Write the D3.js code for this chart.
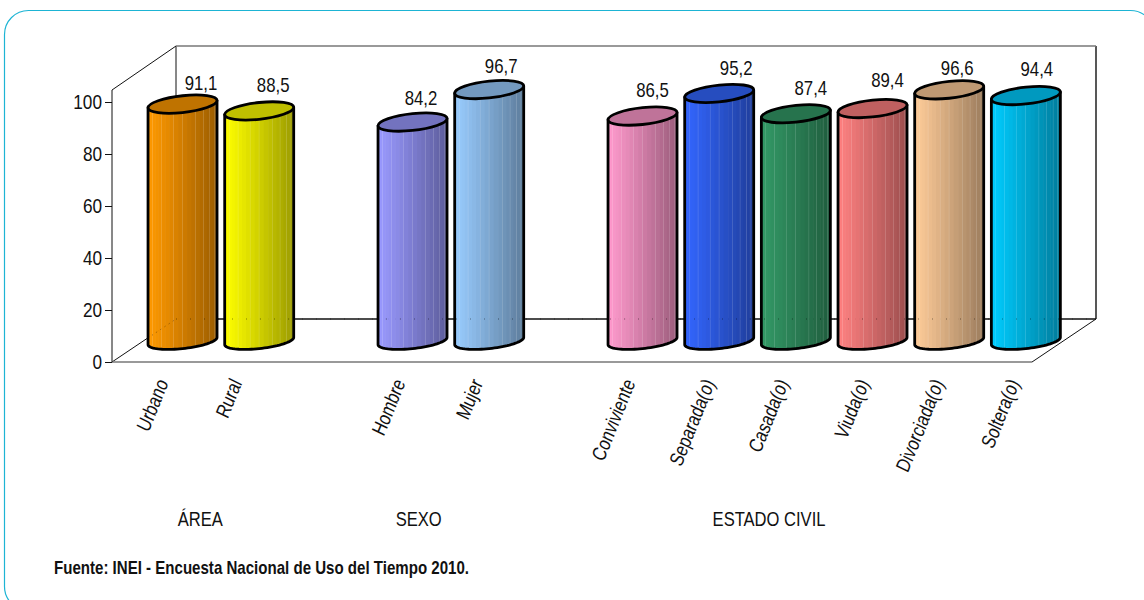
<!DOCTYPE html>
<html><head><meta charset="utf-8">
<script src="https://cdn.jsdelivr.net/npm/d3@7/dist/d3.min.js"></script>
<style>html,body{margin:0;background:#fff}svg{display:block}text{font-family:"Liberation Sans",Arial,sans-serif;fill:#111}</style>
</head><body><svg id="c" width="1144" height="600"></svg>
<script>
const categories=["Urbano","Rural","","Hombre","Mujer","","Conviviente","Separada(o)","Casada(o)","Viuda(o)","Divorciada(o)","Soltera(o)"];
const values=[91.1,88.5,null,84.2,96.7,null,86.5,95.2,87.4,89.4,96.6,94.4];
const valueLabels=["91,1","88,5","","84,2","96,7","","86,5","95,2","87,4","89,4","96,6","94,4"];
const colors=["#ff9900","#ffff00","","#9999ff","#99ccff","","#ff99cc","#3366ff","#339966","#ff8080","#ffcc99","#00ccff"];
const yTicks=[0,20,40,60,80,100];
const groupNames=["ÁREA","SEXO","ESTADO CIVIL"];
const source="Fuente: INEI - Encuesta Nacional de Uso del Tiempo 2010.";

// placement nudges for text, kept apart from the data
const valueNudgeX=[18.5,14,0,8.5,12,0,10,17,15,15,8,11];
const valueNudgeY=[-14.5,-19,0,-17.5,-17,0,-19,-18,-19,-22,-15,-20];
const catNudgeX=[-9,-12,0,-2,-1,0,-2,1,-2,2,0,-1];
const groupCenterSlots=[1.15,4,8.57];

const svg=d3.select("#c"),defs=svg.append("defs");
svg.append("rect").attr("x",4.5).attr("y",10.5).attr("width",1150).attr("height",600).attr("rx",24).attr("fill","#fff").attr("stroke","#1db4d4").attr("stroke-width",1.2);

const depthX=64,depthY=43;
const x=d3.scaleBand().domain(d3.range(categories.length)).range([112,1032]).padding(0);
const y=d3.scaleLinear().domain([0,100]).range([362,102]);
const yTop=90,x0=x.range()[0],x1=x.range()[1];
const baseOff={x:depthX/2+0.2,y:-21};
const rx=34.5,ea=3.6,eb=7.6,ebTop=8.4;
const strokeW=2.8;

// walls and floor
const wall=svg.append("g").attr("fill","none").attr("stroke","#111");
wall.append("path").attr("d",`M${x0},${yTop}L${x0+depthX},${yTop-depthY-1}V${y(0)-depthY}`);
wall.append("path").attr("d",`M1096,${yTop-depthY-1}V${y(0)-depthY}`).attr("stroke-width",1.4);
wall.append("path").attr("d",`M${x0+depthX},${yTop-depthY-1}H1096`).attr("stroke","#777").attr("stroke-width",1.5);
wall.append("path").attr("d",`M${x0+depthX},${y(0)-depthY}H1096`).attr("stroke-width",1.6);
wall.append("path").attr("d",`M${x0},${y(0)}L${x0+depthX},${y(0)-depthY}M${x1},${y(0)}L1096,${y(0)-depthY}`);
wall.append("path").attr("d",`M${x0},${y(0)}H${x1}`).attr("stroke","#777").attr("stroke-width",1.5);

// y axis
const axis=svg.append("g").attr("transform",`translate(${x0},0)`).call(d3.axisLeft(y).tickValues(yTicks).tickSize(7).tickPadding(3));
axis.attr("font-family",null).attr("font-size",null);
axis.select(".domain").remove();
axis.append("line").attr("y1",yTop).attr("y2",y(0)).attr("stroke","#111");
axis.selectAll(".tick line").attr("stroke","#111");
axis.selectAll(".tick text").attr("font-size",20).attr("x",0).attr("transform","translate(-10,0) scale(.86,1)");

const half=d3.range(0,41).map(i=>Math.PI-i/40*Math.PI);
const facets=d3.range(0,24);
const lightIdx=new Set([3,6,9,11,14,16,18,20,21,23]);
const bars=svg.append("g"),labels=svg.append("g");
values.forEach((v,i)=>{
  if(v==null)return;
  const cx=x(i)+x.bandwidth()/2+baseOff.x, cb=y(0)+baseOff.y, ct=y(v)+baseOff.y;
  const c0=d3.rgb(colors[i]);
  const dark=k=>d3.rgb(c0.r*k,c0.g*k,c0.b*k);
  const ell=a=>[cx+rx*Math.cos(a),-ea*Math.cos(a)+eb*Math.sin(a)];
  const front=half.map(a=>{const p=ell(a);return [p[0],cb+p[1]]});
  const d="M"+(cx-rx)+","+(ct+ea)+"L"+front.map(p=>p.join(",")).join("L")+"L"+(cx+rx)+","+(ct-ea)+"Z";
  const id="clip"+i;
  defs.append("clipPath").attr("id",id).append("path").attr("d",d);
  const g=bars.append("g");
  const fg=g.append("g").attr("clip-path",`url(#${id})`);
  const col=d3.scaleLinear().domain([0,1]).range([c0,dark(.6)]).interpolate(d3.interpolateRgb);
  facets.forEach(k=>{
    const th0=k/facets.length,th1=(k+1)/facets.length;
    const a0=cx-rx*Math.cos(th0*Math.PI),a1=cx-rx*Math.cos(th1*Math.PI);
    fg.append("rect").attr("x",a0).attr("y",ct-eb-5).attr("width",a1-a0+.6).attr("height",cb-ct+2*eb+10).attr("fill",col((a0-cx+rx)/(2*rx)));
    if(lightIdx.has(k)) fg.append("rect").attr("x",a1-.3).attr("y",ct-eb-5).attr("width",.9).attr("height",cb-ct+2*eb+10).attr("fill","#fff").attr("opacity",.38);
  });
  g.append("path").attr("d",d).attr("fill","none").attr("stroke","#000").attr("stroke-width",strokeW).attr("stroke-linejoin","round");
  g.append("ellipse").attr("rx",1).attr("ry",1)
    .attr("transform",`matrix(${rx},${-ea},0,${ebTop},${cx},${ct})`)
    .attr("fill",dark(.75)).attr("stroke","#000").attr("stroke-width",strokeW).attr("vector-effect","non-scaling-stroke");
  labels.append("text").attr("text-anchor","middle").attr("font-size",20)
    .attr("transform",`translate(${cx+valueNudgeX[i]},${ct+valueNudgeY[i]}) scale(.84,1)`).text(valueLabels[i]);
  labels.append("text").attr("transform",`translate(${x(i)+x.bandwidth()/2+21+catNudgeX[i]},380) rotate(-68) skewX(-4) scale(.82,1)`)
    .attr("text-anchor","end").attr("font-size",20).attr("dy",".35em").text(categories[i]);
});
// floor lines faintly visible through the bars
svg.append("path").attr("d",`M${x0+depthX},${y(0)-depthY}H1096`).attr("fill","none").attr("stroke","#000").attr("stroke-width",1).attr("stroke-dasharray","1 13").attr("opacity",.45);
svg.append("path").attr("d",`M${x0+36},${y(0)-24}L${x0+depthX},${y(0)-depthY}`).attr("fill","none").attr("stroke","#000").attr("stroke-width",1).attr("stroke-dasharray","1 4").attr("opacity",.4);

groupNames.forEach((name,i)=>{
  const cx=x(0)+groupCenterSlots[i]*x.bandwidth();
  svg.append("text").attr("text-anchor","middle").attr("font-size",19.5)
    .attr("transform",`translate(${cx},526) scale(.85,1)`).text(name);
});
svg.append("text").attr("x",54).attr("y",574).attr("font-size",19).attr("font-weight","bold")
  .attr("textLength",415).attr("lengthAdjust","spacingAndGlyphs").text(source);
</script></body></html>
